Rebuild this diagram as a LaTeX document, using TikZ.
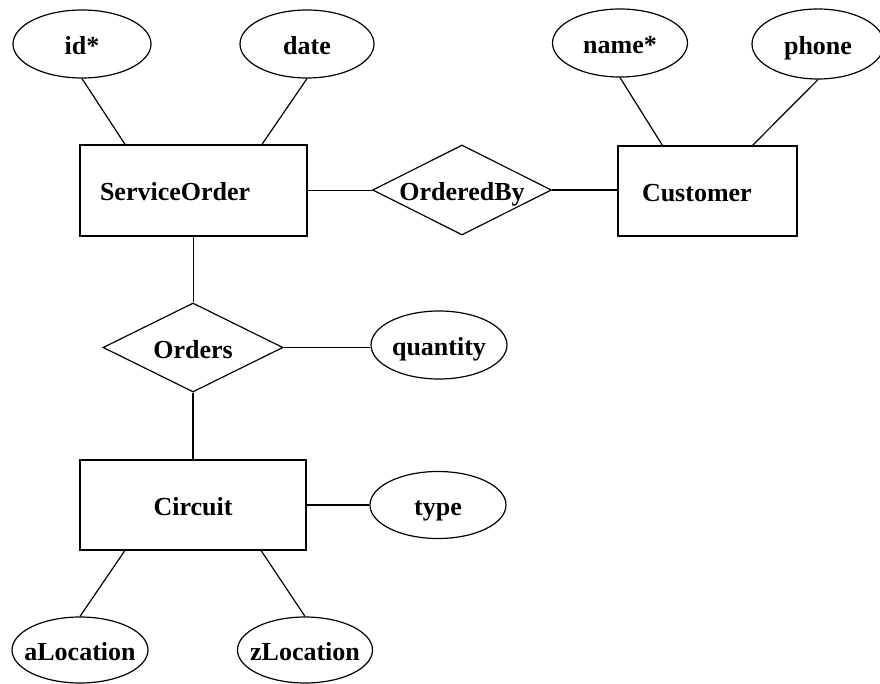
\documentclass[tikz,border=0pt]{standalone}
\usepackage{fontspec}
\setmainfont{Liberation Serif}
\usetikzlibrary{shapes.geometric,calc}
\newcommand{\zw}[1]{\makebox[0pt][c]{#1}}
\begin{document}
\begin{tikzpicture}[x=1pt,y=-1pt,
  every node/.style={font=\fontsize{26}{28}\selectfont\bfseries,text height=21pt,text depth=0pt},
  attr/.style={draw,ellipse,line width=1.2pt,inner sep=0pt},
  entity/.style={draw,rectangle,line width=1.2pt,inner sep=0pt},
  rel/.style={draw,diamond,aspect=2,line width=1.2pt,inner sep=0pt},
  conn/.style={line width=1.2pt}]
\useasboundingbox (0,0) rectangle (880,684);
\fill[white] (0,0) rectangle (880,684);
% entities
\node[entity,minimum height=91pt,text width=187pt,inner xsep=20pt,align=left] (so) at (193.5,190.5) {ServiceOrder};
\node[entity,minimum height=90pt,text width=131pt,inner xsep=24pt,align=left] (cu) at (707.5,191) {Customer};
\node[entity,minimum width=226pt,minimum height=90pt] (ci) at (193,505) {Circuit};
% relationships
\node[rel,minimum width=179pt,minimum height=90pt] (ob) at (462,190) {\zw{OrderedBy}};
\node[rel,minimum width=180pt,minimum height=89pt] (or) at (193,347.5) {\zw{Orders}};
% attributes
\node[attr,minimum width=138pt,minimum height=68pt] (id) at (82,44) {\zw{id*}};
\node[attr,minimum width=134pt,minimum height=68pt] (date) at (307,44) {\zw{date}};
\node[attr,minimum width=135pt,minimum height=68pt] (name) at (620,43) {\zw{name*}};
\node[attr,minimum width=132pt,minimum height=70pt] (phone) at (818,44) {\zw{phone}};
\node[attr,minimum width=136pt,minimum height=68pt] (qu) at (439,345) {\zw{quantity}};
\node[attr,minimum width=136pt,minimum height=67pt] (ty) at (438,505) {\zw{type}};
\node[attr,minimum width=136pt,minimum height=66pt] (al) at (80,650) {\zw{aLocation}};
\node[attr,minimum width=135pt,minimum height=66pt] (zl) at (305,650) {\zw{zLocation}};
% connectors
\draw[conn] (id.south) -- ($(so.north west)!0.2!(so.north east)$);
\draw[conn] (date.south) -- ($(so.north west)!0.8!(so.north east)$);
\draw[conn] (so.east) -- (so.east -| ob.west);
\draw[conn] (ob.east) -- (ob.east -| cu.west);
\draw[conn] (name.south) -- ($(cu.north west)!0.25!(cu.north east)$);
\draw[conn] (phone.south) -- ($(cu.north west)!0.75!(cu.north east)$);
\draw[conn] (so.south) -- (so.south |- or.north);
\draw[conn] (or.east) -- (or.east -| qu.west);
\draw[conn] (or.south) -- (or.south |- ci.north);
\draw[conn] (ci.east) -- (ci.east -| ty.west);
\draw[conn] (al.north) -- ($(ci.south west)!0.2!(ci.south east)$);
\draw[conn] (zl.north) -- ($(ci.south west)!0.8!(ci.south east)$);
\end{tikzpicture}
\end{document}
